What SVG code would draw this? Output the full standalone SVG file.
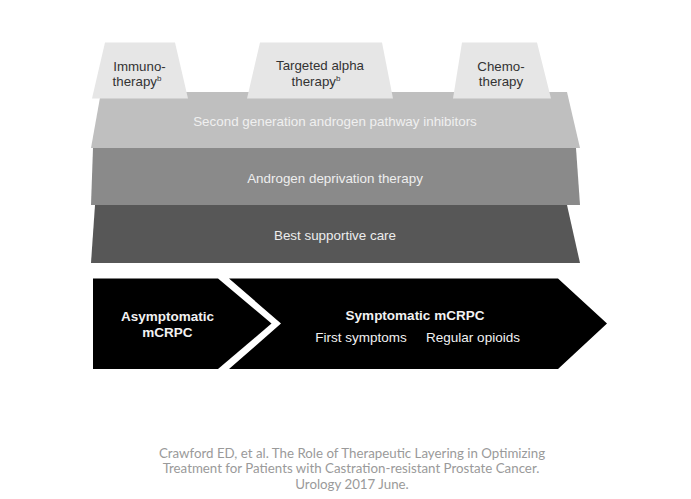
<svg xmlns="http://www.w3.org/2000/svg" width="691" height="499" viewBox="0 0 691 499">
<style>
.box{fill:#e6e6e6}
.bt{font-family:"Liberation Sans",Arial,sans-serif;font-size:13.3px;fill:#333;text-anchor:middle}
.lt{font-family:"Liberation Sans",Arial,sans-serif;font-size:13.4px;text-anchor:middle}
.ch{fill:#000}
.wt{font-family:"Liberation Sans",Arial,sans-serif;font-size:13.5px;fill:#f2f2f2;text-anchor:middle}
.cite{font-family:Lato,"Open Sans",sans-serif;font-size:13.3px;fill:#9a9a9a;text-anchor:middle}
</style>
<rect width="691" height="499" fill="#fff"/>
<g id="best">
<polygon points="95,205 567,205 580,263 91,263" fill="#575757"/>
<text class="lt" x="335" y="240" fill="#ededed">Best supportive care</text>
</g>
<g id="adt">
<polygon points="93,148 576,148 580,205 91,205" fill="#8a8a8a"/>
<text class="lt" x="335" y="183" fill="#eeeeee">Androgen deprivation therapy</text>
</g>
<g id="second">
<polygon points="101,92 567,92 580,148 91,148" fill="#bfbfbf"/>
<text class="lt" x="335" y="126" fill="#f0f0f0">Second generation androgen pathway inhibitors</text>
</g>
<g id="immuno">
<polygon class="box" points="105,42.5 175,42.5 188,98.5 92,98.5"/>
<text class="bt" x="139.5" y="71">Immuno-</text>
<text class="bt" x="137" y="86">therapy<tspan font-size="8" dy="-5">b</tspan></text>
</g>
<g id="alpha">
<polygon class="box" points="260,42.5 382,42.5 393,98.5 247,98.5"/>
<text class="bt" x="320" y="70">Targeted alpha</text>
<text class="bt" x="316" y="86">therapy<tspan font-size="8" dy="-5">b</tspan></text>
</g>
<g id="chemo">
<polygon class="box" points="462,42.5 537,42.5 551,98.5 453,98.5"/>
<text class="bt" x="501" y="71">Chemo-</text>
<text class="bt" x="501" y="86">therapy</text>
</g>
<g id="asymptomatic">
<polygon class="ch" points="93,278.5 218,278.5 271.5,323.5 218,369 93,369"/>
<text class="wt" x="167.5" y="321" font-weight="bold">Asymptomatic</text>
<text class="wt" x="167.5" y="337" font-weight="bold">mCRPC</text>
</g>
<g id="symptomatic">
<polygon class="ch" points="229,278.5 558,278.5 607,323.5 558,369 229,369 281,323.5"/>
<text class="wt" x="415" y="320" font-weight="bold">Symptomatic mCRPC</text>
<text class="wt" x="361" y="342">First symptoms</text>
<text class="wt" x="473" y="342">Regular opioids</text>
</g>
<g id="connectors"></g>
<g id="citation">
<text class="cite" x="352" y="457.5">Crawford ED, et al. The Role of Therapeutic Layering in Optimizing</text>
<text class="cite" x="351" y="473">Treatment for Patients with Castration-resistant Prostate Cancer.</text>
<text class="cite" x="352" y="488.5">Urology 2017 June.</text>
</g>
</svg>
